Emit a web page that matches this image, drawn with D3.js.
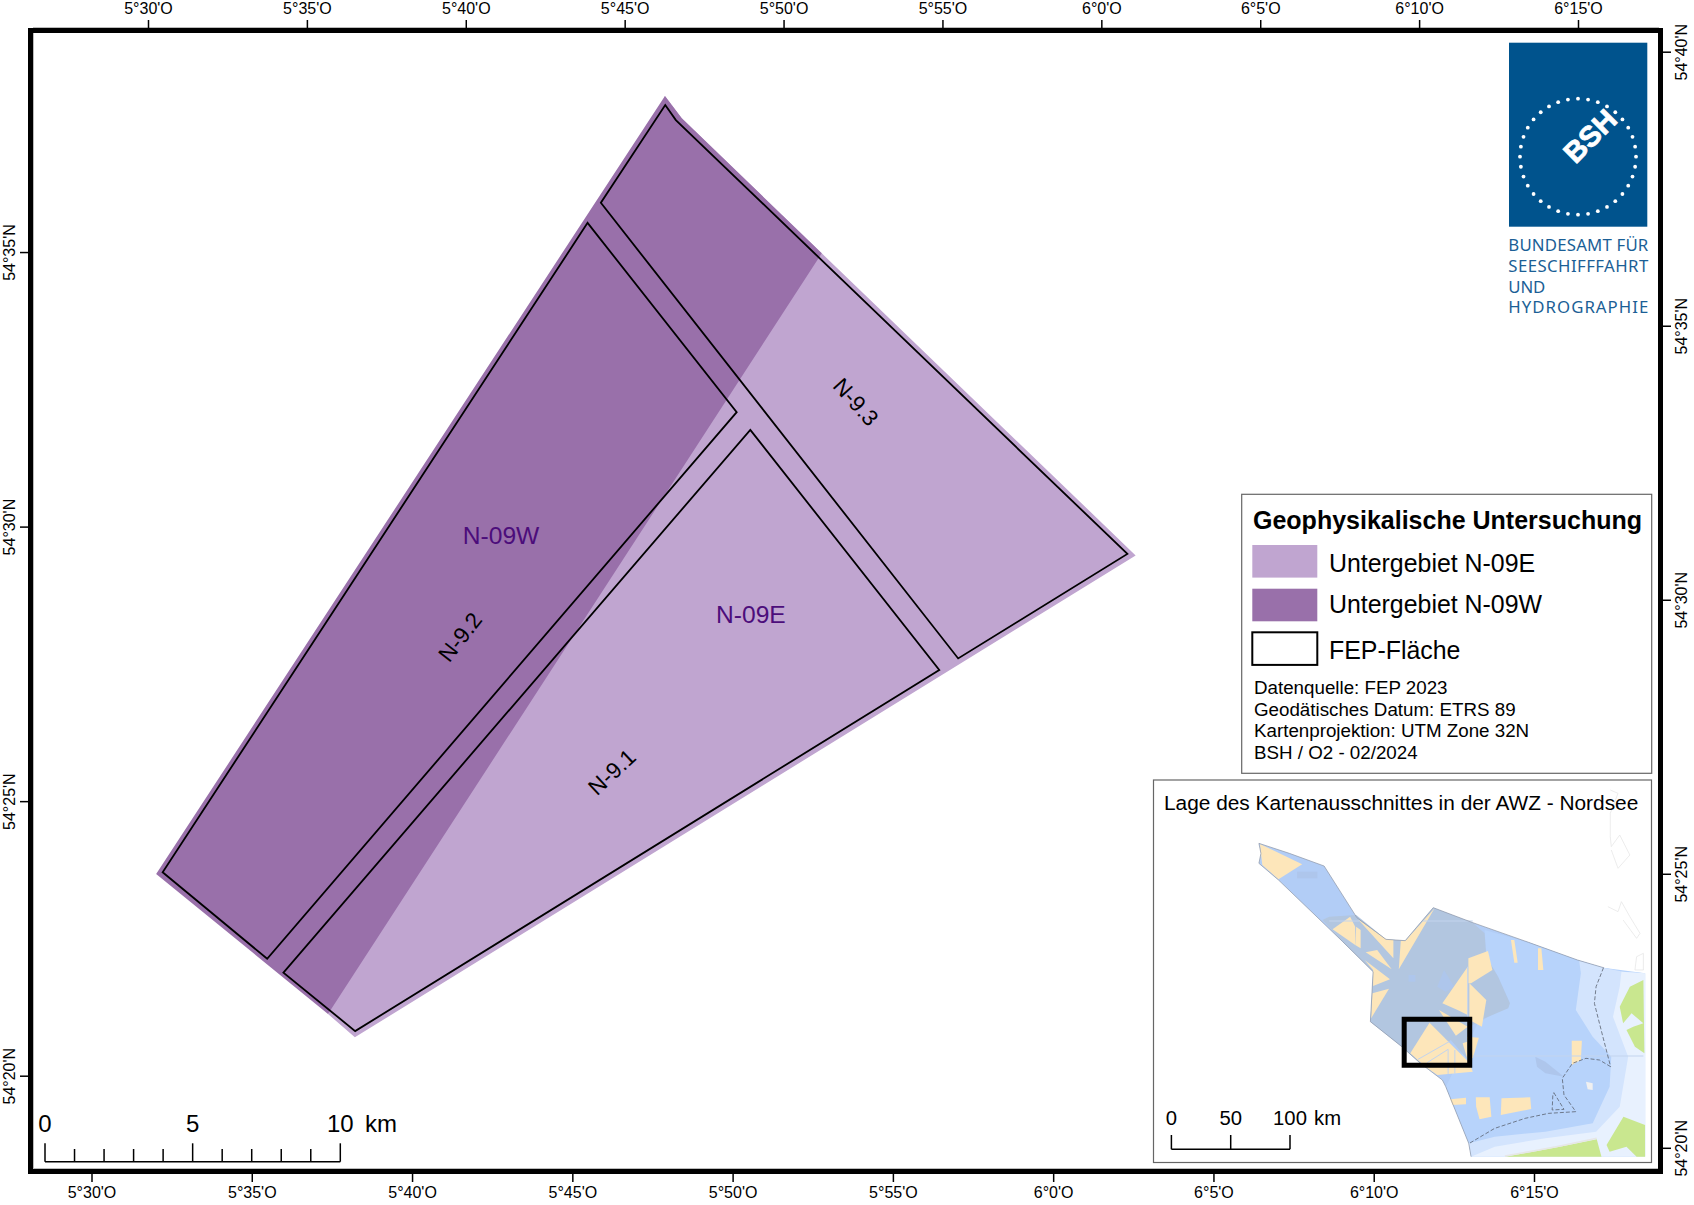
<!DOCTYPE html>
<html lang="de">
<head>
<meta charset="utf-8">
<title>Geophysikalische Untersuchung N-09</title>
<script src="https://cdn.jsdelivr.net/npm/d3@7"></script>
<style>
body { margin: 0; background: #fff; }
text { font-family: "Liberation Sans", Arial, sans-serif; fill: #000; }
</style>
</head>
<body>
<div id="chart"></div>
<script>
// map positions are in km east / north of the lower left frame corner
const subareaEast = [[21.40, 36.34], [21.97, 35.58], [26.71, 31.01], [37.34, 20.78], [10.90, 4.46], [9.99, 5.25]];
const subareaWest = [[21.40, 36.34], [21.97, 35.58], [26.71, 31.01], [9.99, 5.25], [4.17, 9.99]];
const fep93 = [[21.41, 36.03], [21.77, 35.52], [37.06, 20.83], [31.33, 17.29], [19.23, 32.72]];
const fep92 = [[18.78, 32.04], [23.83, 25.63], [7.93, 7.12], [4.39, 10.05]];
const fep91 = [[24.29, 25.03], [30.69, 16.90], [10.91, 4.67], [8.48, 6.65]];

const areaLabels = [
	{name: 'N-09W', at: [15.85, 21.47]},
	{name: 'N-09E', at: [24.31, 18.79]}
];
const fepLabels = [
	{name: 'N-9.1', at: [19.60, 13.45], angle: -43},
	{name: 'N-9.2', at: [14.46, 18.02], angle: -52},
	{name: 'N-9.3', at: [27.87, 25.98], angle: 48}
];

// graticule, lon in minutes and lat in minutes
const lonTicks = [330, 335, 340, 345, 350, 355, 360, 365, 370, 375];
const latTicksLeft = [3275, 3270, 3265, 3260];
const latTicksRight = [3280, 3275, 3270, 3265, 3260];

const scaleKm = [0, 1, 2, 3, 4, 5, 6, 7, 8, 9, 10];
const scaleKmLabels = [0, 5, 10];
const insetKm = [0, 50, 100];

const legendTitle = 'Geophysikalische Untersuchung';
const legendNames = ['Untergebiet N-09E', 'Untergebiet N-09W', 'FEP-Fläche'];
const legendNotes = ['Datenquelle: FEP 2023', 'Geodätisches Datum: ETRS 89', 'Kartenprojektion: UTM Zone 32N', 'BSH / O2 - 02/2024'];
const logoLines = ['BUNDESAMT FÜR', 'SEESCHIFFFAHRT', 'UND', 'HYDROGRAPHIE'];
const logoLengths = [140, 140, 37, 140];

const eez = [[352, 220], [442, 250], [545, 288], [642, 443], [728, 508], [785, 512], [868, 413], [985, 458], [1150, 517], [1295, 570], [1372, 593], [1430, 605], [1495, 610], [1495, 1160], [980, 1160], [973, 1120], [905, 950], [895, 930], [830, 880], [775, 830], [682, 755], [690, 605], [600, 515], [410, 330], [352, 280], [358, 250]];
const eezBorder = [[358, 250], [352, 220], [442, 250], [545, 288], [642, 443], [728, 508], [785, 512], [868, 413], [985, 458], [1150, 517], [1295, 570], [1372, 593]];
const eezBorderWest = [[358, 250], [352, 280], [410, 330], [600, 515], [690, 605], [682, 755], [775, 830], [830, 880], [895, 930], [905, 950], [973, 1120], [980, 1160]];
const seaEast = [[1020, 480], [1150, 517], [1295, 570], [1372, 593], [1495, 610], [1495, 1160], [980, 1160], [973, 1120], [905, 950], [1000, 760], [1095, 700], [1060, 620], [1025, 560]];
const seaPale = [[1300, 572], [1372, 593], [1430, 605], [1495, 610], [1495, 1160], [980, 1160], [973, 1120], [1050, 1100], [1200, 1085], [1340, 1060], [1390, 950], [1395, 860], [1340, 800], [1290, 720], [1305, 610]];
const seaPalest = [[1425, 605], [1495, 610], [1495, 1160], [980, 1160], [1050, 1130], [1200, 1105], [1350, 1085], [1420, 1010], [1445, 860], [1400, 740], [1420, 650]];
const seaGrey = [[560, 440], [640, 435], [728, 508], [785, 512], [868, 413], [985, 458], [1020, 490], [1025, 560], [1060, 620], [1095, 700], [1090, 715], [1020, 745], [975, 770], [975, 875], [920, 810], [830, 880], [775, 830], [682, 755], [690, 605], [600, 515], [540, 450]];
const seaPatches = [
	[[880, 650], [900, 600], [930, 650], [905, 665]],
	[[795, 615], [815, 615], [815, 635], [795, 635]],
	[[1170, 860], [1200, 875], [1255, 920], [1200, 910], [1175, 890]],
	[[465, 305], [525, 305], [525, 325], [465, 325]]
];
const lots = [
	[[355, 222], [480, 283], [410, 328], [362, 285]],
	[[570, 478], [622, 440], [637, 470], [637, 525]],
	[[640, 470], [653, 480], [653, 535], [637, 525]],
	[[645, 448], [728, 508], [750, 510], [750, 565]],
	[[668, 547], [702, 540], [745, 598]],
	[[665, 570], [740, 628], [690, 648], [690, 600]],
	[[737, 656], [688, 670], [684, 745]],
	[[772, 512], [786, 512], [872, 415], [766, 598]],
	[[972, 565], [1030, 543], [1043, 600], [980, 640], [972, 640]],
	[[970, 590], [970, 735], [940, 720], [895, 700]],
	[[975, 640], [1025, 690], [1012, 770], [975, 750]],
	[[885, 720], [970, 770], [935, 797]],
	[[857, 758], [975, 878], [985, 905], [880, 915], [845, 890], [800, 850]],
	[[955, 820], [968, 815], [970, 870]],
	[[968, 800], [1003, 803], [985, 865], [975, 860]],
	[[1098, 510], [1108, 510], [1118, 578], [1108, 578]],
	[[1178, 535], [1188, 535], [1194, 600], [1178, 600]],
	[[1278, 812], [1308, 812], [1305, 870], [1278, 885]],
	[[918, 988], [965, 983], [965, 1003], [925, 1005]],
	[[994, 982], [1035, 982], [1040, 1040], [1005, 1048], [995, 1010]],
	[[1070, 985], [1155, 982], [1158, 1017], [1068, 1035]]
];
const lotLines = [
	[[823, 868], [915, 815]],
	[[850, 878], [912, 838], [912, 912]],
	[[932, 840], [932, 910]],
	[[970, 590], [970, 760]],
	[[560, 453], [650, 453]],
	[[838, 453], [985, 453]],
	[[985, 858], [1490, 858]]
];
const seaLimit = [
	[[1372, 593], [1350, 650], [1345, 700], [1365, 780], [1393, 890]],
	[[1393, 890], [1360, 870], [1320, 865], [1280, 880], [1250, 925], [1255, 975], [1290, 1025]],
	[[1290, 1025], [1210, 1030], [1140, 1045], [1050, 1075], [975, 1120]],
	[[1225, 968], [1255, 1018], [1220, 1020], [1222, 975], [1225, 968]]
];
const land = [
	[[1430, 690], [1450, 650], [1490, 630], [1493, 850], [1465, 830], [1440, 780], [1460, 770], [1490, 760], [1455, 730], [1430, 760], [1420, 710]],
	[[1080, 1160], [1164, 1145], [1243, 1130], [1352, 1108], [1366, 1160]],
	[[1381, 1125], [1431, 1040], [1495, 1065], [1495, 1160], [1470, 1160], [1440, 1130], [1390, 1145]]
];
const coastSand = [[[1080, 1158], [1164, 1143], [1243, 1128], [1352, 1105]]];
const coastLines = [
	[[1392, 60], [1415, 70], [1392, 130], [1392, 200], [1395, 230], [1420, 195], [1450, 255], [1415, 295], [1395, 240]],
	[[1385, 410], [1415, 425], [1425, 395], [1450, 440], [1480, 490], [1470, 505], [1430, 450]],
	[[1470, 560], [1490, 550], [1490, 600], [1465, 600], [1470, 560]]
];
const island = [[1320, 935], [1340, 940], [1340, 960], [1325, 958]];
const extentBox = [[782, 748], [976, 748], [976, 886], [782, 886]];

const width = 1694;
const height = 1205;

const svg = d3.select('#chart')
	.append('svg')
	.attr('width', width)
	.attr('height', height);

const xKm = d3.scaleLinear().domain([0, 55]).range([33, 33 + 55 * 29.53]);
const yKm = d3.scaleLinear().domain([0, 38.47]).range([1169, 33]);
const mapLine = d3.line().x(d => xKm(d[0])).y(d => yKm(d[1]));
const closed = (line, pts) => line(pts) + 'Z';

svg.append('path').attr('d', closed(mapLine, subareaEast)).attr('fill', '#c0a5d0');
svg.append('path').attr('d', closed(mapLine, subareaWest)).attr('fill', '#9970aa');

svg.selectAll('.fep')
	.data([fep91, fep92, fep93])
	.join('path')
	.attr('class', 'fep')
	.attr('d', d => closed(mapLine, d))
	.attr('fill', 'none')
	.attr('stroke', '#000')
	.attr('stroke-width', 1.8);

svg.selectAll('.area-label')
	.data(areaLabels)
	.join('text')
	.attr('class', 'area-label')
	.attr('x', d => xKm(d.at[0]))
	.attr('y', d => yKm(d.at[1]) + 9)
	.attr('text-anchor', 'middle')
	.style('font-size', '24.6px')
	.style('fill', '#4c0d7b')
	.text(d => d.name);

svg.selectAll('.fep-label')
	.data(fepLabels)
	.join('text')
	.attr('class', 'fep-label')
	.attr('transform', d => `translate(${xKm(d.at[0])}, ${yKm(d.at[1])}) rotate(${d.angle})`)
	.attr('y', 8)
	.attr('text-anchor', 'middle')
	.style('font-size', '22.5px')
	.text(d => d.name);

// frame + graticule ticks
svg.append('rect')
	.attr('x', 33.5).attr('y', 27.5).attr('width', 1625).attr('height', 1141)
	.attr('fill', 'none').attr('stroke', '#bbb');
svg.append('rect')
	.attr('x', 30.5).attr('y', 30.5).attr('width', 1630).attr('height', 1141)
	.attr('fill', 'none').attr('stroke', '#000').attr('stroke-width', 5);

const lonLabel = d => `${Math.floor(d / 60)}°${d % 60}'O`;
const latLabel = d => `${Math.floor(d / 60)}°${d % 60}'N`;

const xTop = d3.scaleLinear().domain([330, 375]).range([148, 1578]);
const xBottom = d3.scaleLinear().domain([330, 375]).range([91.5, 1534]);
const yLat = d3.scaleLinear().domain([3280, 3260]).range([-22.5, 1075.7]);
const yLatRight = d3.scaleLinear().domain([3280, 3260]).range([51.7, 1147.8]);

function styleAxis(g) {
	g.select('.domain').remove();
	g.selectAll('.tick line').attr('stroke', '#000').attr('stroke-width', 1.5);
	g.selectAll('text').style('font-size', '16px').style('font-family', '"Liberation Sans", Arial, sans-serif').attr('fill', '#000');
}

svg.append('g')
	.attr('transform', 'translate(0, 28)')
	.call(d3.axisTop(xTop).tickValues(lonTicks).tickFormat(lonLabel).tickSize(8).tickPadding(6))
	.call(styleAxis);

svg.append('g')
	.attr('transform', 'translate(0, 1174)')
	.call(d3.axisBottom(xBottom).tickValues(lonTicks).tickFormat(lonLabel).tickSize(8).tickPadding(4.6))
	.call(styleAxis);

svg.append('g')
	.attr('transform', 'translate(28, 0)')
	.call(d3.axisLeft(yLat).tickValues(latTicksLeft).tickFormat(latLabel).tickSize(8))
	.call(styleAxis)
	.selectAll('text')
	.attr('transform', 'rotate(-90)')
	.attr('x', 0).attr('y', -13).attr('dy', 0)
	.attr('text-anchor', 'middle');

svg.append('g')
	.attr('transform', 'translate(1663, 0)')
	.call(d3.axisRight(yLatRight).tickValues(latTicksRight).tickFormat(latLabel).tickSize(8))
	.call(styleAxis)
	.selectAll('text')
	.attr('transform', 'rotate(-90)')
	.attr('x', 0).attr('y', 24).attr('dy', 0)
	.attr('text-anchor', 'middle');

// scale bar
const barX = d3.scaleLinear().domain([0, 10]).range([45, 340.3]);
const bar = svg.append('g');
bar.append('line')
	.attr('x1', barX(0)).attr('x2', barX(10)).attr('y1', 1161.7).attr('y2', 1161.7)
	.attr('stroke', '#000').attr('stroke-width', 1.5);
bar.selectAll('.tick')
	.data(scaleKm)
	.join('line')
	.attr('class', 'tick')
	.attr('x1', d => barX(d)).attr('x2', d => barX(d))
	.attr('y1', d => d % 5 === 0 ? 1143.3 : 1149).attr('y2', 1161.7)
	.attr('stroke', '#000').attr('stroke-width', 1.5);
bar.selectAll('.lab')
	.data(scaleKmLabels)
	.join('text')
	.attr('class', 'lab')
	.attr('x', d => barX(d)).attr('y', 1131.7)
	.attr('text-anchor', 'middle')
	.style('font-size', '24px')
	.text(d => d);
bar.append('text').attr('x', 365).attr('y', 1131.7).style('font-size', '24px').text('km');

// logo
const logo = svg.append('g');
logo.append('rect')
	.attr('x', 1509).attr('y', 42.7).attr('width', 138.3).attr('height', 184)
	.attr('fill', '#00538d');
logo.selectAll('circle')
	.data(d3.range(36))
	.join('circle')
	.attr('cx', d => 1578 + 58 * Math.sin(d / 36 * 2 * Math.PI))
	.attr('cy', d => 156.7 - 58 * Math.cos(d / 36 * 2 * Math.PI))
	.attr('r', 1.9)
	.attr('fill', '#fff');
logo.append('text')
	.attr('transform', 'translate(1590, 136) rotate(-45)')
	.attr('y', 10)
	.attr('text-anchor', 'middle')
	.style('font-size', '29px').style('font-weight', 'bold').style('fill', '#fff')
	.style('stroke', '#fff').style('stroke-width', 0.8)
	.text('BSH');
logo.selectAll('.logo-line')
	.data(logoLines)
	.join('text')
	.attr('class', 'logo-line')
	.attr('x', 1508.3)
	.attr('y', (d, i) => 250.7 + i * 20.9)
	.attr('textLength', (d, i) => logoLengths[i])
	.attr('lengthAdjust', 'spacing')
	.style('font-family', '"Noto Sans", sans-serif').style('font-size', '16.8px').style('fill', '#1b5f96')
	.text(d => d);

// legend
const legend = svg.append('g');
legend.append('rect')
	.attr('x', 1241.7).attr('y', 494.3).attr('width', 410).attr('height', 279)
	.attr('fill', '#fff').attr('stroke', '#666').attr('stroke-width', 1.2);
legend.append('text')
	.attr('x', 1253).attr('y', 529.3)
	.style('font-size', '25px').style('font-weight', 'bold')
	.text(legendTitle);
const swatchFill = ['#c0a5d0', '#9970aa', '#fff'];
const swatchTop = [545, 588.7, 632.3];
const nameBase = [572, 613, 659];
legend.selectAll('.swatch')
	.data(legendNames)
	.join('rect')
	.attr('class', 'swatch')
	.attr('x', 1252.3)
	.attr('y', (d, i) => swatchTop[i])
	.attr('width', 65).attr('height', 32.6)
	.attr('fill', (d, i) => swatchFill[i])
	.attr('stroke', (d, i) => i === 2 ? '#000' : 'none')
	.attr('stroke-width', 2);
legend.selectAll('.name')
	.data(legendNames)
	.join('text')
	.attr('class', 'name')
	.attr('x', 1329)
	.attr('y', (d, i) => nameBase[i])
	.style('font-size', '24.9px')
	.text(d => d);
legend.selectAll('.note')
	.data(legendNotes)
	.join('text')
	.attr('class', 'note')
	.attr('x', 1254)
	.attr('y', (d, i) => 694 + i * 21.6)
	.style('font-size', '18.75px')
	.text(d => d);

// overview inset
const inset = svg.append('g');
inset.append('rect')
	.attr('x', 1153.5).attr('y', 780).attr('width', 498).attr('height', 382.5)
	.attr('fill', '#fff').attr('stroke', '#666').attr('stroke-width', 1.2);

const xInset = d3.scaleLinear().domain([0, 1480]).range([1140, 1640]);
const yInset = d3.scaleLinear().domain([0, 1200]).range([770, 1170]);
const insetLine = d3.line().x(d => xInset(d[0])).y(d => yInset(d[1]));

function fillShapes(shapes, color) {
	inset.append('g').selectAll('path')
		.data(shapes)
		.join('path')
		.attr('d', d => closed(insetLine, d))
		.attr('fill', color);
}
function strokeShapes(shapes, color, w, dash) {
	inset.append('g').selectAll('path')
		.data(shapes)
		.join('path')
		.attr('d', d => insetLine(d))
		.attr('fill', 'none')
		.attr('stroke', color)
		.attr('stroke-width', w)
		.attr('stroke-dasharray', dash || null);
}

strokeShapes(coastLines, '#e4e4e4', 0.7);
fillShapes([eez], '#b2cdf6');
fillShapes([seaEast], '#b7d3fb');
fillShapes([seaPale], '#d3e4fd');
fillShapes([seaPalest], '#e8f1fe');
fillShapes([seaGrey], '#b2c6e0');
fillShapes(seaPatches, '#aec6ec');
fillShapes(lots, '#fde6ba');
strokeShapes(lotLines, '#c3d4ee', 1);
fillShapes(land, '#c9e78f');
strokeShapes(coastSand, '#e6e6e6', 1.5);
fillShapes([island], '#f0f0f0');
strokeShapes([eezBorder, eezBorderWest], '#8e96a6', 0.7);
strokeShapes(seaLimit, '#5a6270', 0.8, '4 2');

inset.append('path')
	.attr('d', closed(insetLine, extentBox))
	.attr('fill', 'none').attr('stroke', '#000').attr('stroke-width', 5);

inset.append('text')
	.attr('x', 1164).attr('y', 810)
	.style('font-size', '20.85px')
	.text('Lage des Kartenausschnittes in der AWZ - Nordsee');

const insetBar = d3.scaleLinear().domain([0, 100]).range([1171.4, 1290]);
inset.append('line')
	.attr('x1', insetBar(0)).attr('x2', insetBar(100)).attr('y1', 1149.3).attr('y2', 1149.3)
	.attr('stroke', '#000').attr('stroke-width', 1.5);
inset.selectAll('.ibar')
	.data(insetKm)
	.join('line')
	.attr('class', 'ibar')
	.attr('x1', d => insetBar(d)).attr('x2', d => insetBar(d))
	.attr('y1', 1135).attr('y2', 1149.3)
	.attr('stroke', '#000').attr('stroke-width', 1.5);
inset.selectAll('.ilab')
	.data(insetKm)
	.join('text')
	.attr('class', 'ilab')
	.attr('x', d => insetBar(d)).attr('y', 1125)
	.attr('text-anchor', 'middle')
	.style('font-size', '20.3px')
	.text(d => d);
inset.append('text').attr('x', 1314).attr('y', 1125).style('font-size', '20.3px').text('km');
</script>
</body>
</html>
